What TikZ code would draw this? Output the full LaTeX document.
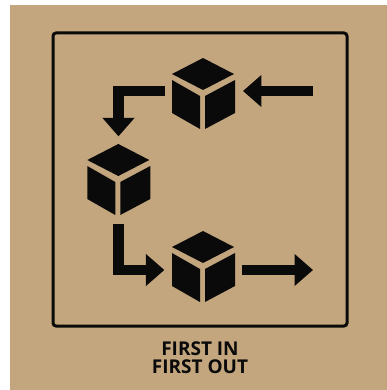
\documentclass[tikz,border=0pt]{standalone}
\usepackage{fontspec}
\setmainfont{Open Sans}
\usetikzlibrary{arrows.meta}
\definecolor{cardboard}{RGB}{195,166,126}
\definecolor{inkblack}{RGB}{10,10,10}
\tikzset{
  cubeslot/.style={inner sep=0pt,minimum width=77.5pt,minimum height=87.5pt},
  flowarrow/.style={inkblack,line width=10.2pt,-{Triangle[length=18.5pt,width=31pt]}},
  cubeicon/.pic={
    \fill[inkblack] (0,-34) -- (31,-18) -- (0,-2) -- (-31,-18) -- cycle;
    \fill[inkblack] (-31,-12) -- (-3,4) -- (-3,37) -- (-31,21) -- cycle;
    \fill[inkblack] (2,4) -- (32,-12) -- (32,21) -- (2,37) -- cycle;
  }
}

\begin{document}
\begin{tikzpicture}[x=1pt,y=-1pt]
\useasboundingbox (0,0) rectangle (387,390);
\fill[cardboard] (10,5) rectangle (387,390);
\draw[inkblack,line width=3pt,rounded corners=3pt] (53,33) rectangle (347,326);
\foreach \cx/\cy in {203/92, 118.3/178, 203/265}
  \pic at (\cx,\cy) {cubeicon};
\node[cubeslot] (topcube) at (204,91) {};
\node[cubeslot] (midcube) at (118.5,180.3) {};
\node[cubeslot] (lastcube) at (203.3,270) {};
\coordinate (inend) at (313,91);
\coordinate (outend) at (313,270);
\draw[flowarrow] (inend) -- (topcube);
\draw[flowarrow] (topcube) -| (midcube);
\draw[flowarrow] (midcube) |- (lastcube);
\draw[flowarrow] (lastcube) -- (outend);
\node[inkblack,font=\bfseries\fontsize{19}{18}\selectfont,align=center,inner sep=0pt] (caption) at (200,358) {FIRST IN\\FIRST OUT};
\end{tikzpicture}
\end{document}
